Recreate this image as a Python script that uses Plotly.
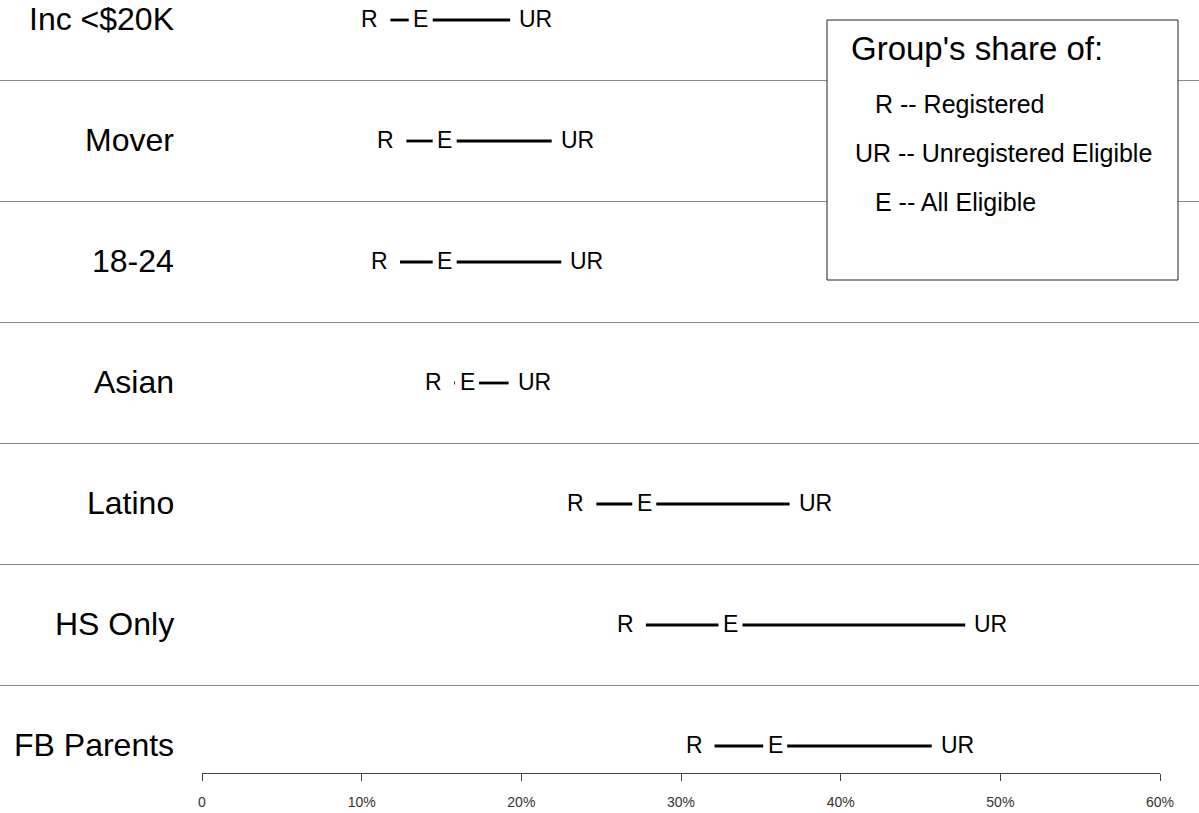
import plotly.graph_objects as go

groups = ["Inc <$20K", "Mover", "18-24", "Asian", "Latino", "HS Only", "FB Parents"]
registered = [11.8, 12.8, 12.4, 15.8, 24.7, 27.8, 32.1]
eligible = [13.7, 15.2, 15.2, 16.6, 27.7, 33.1, 35.9]
unregistered = [19.3, 21.9, 22.5, 19.2, 36.8, 47.8, 45.7]
tick_vals = [0, 10, 20, 30, 40, 50, 60]
tick_text = ["0", "10%", "20%", "30%", "40%", "50%", "60%"]
legend_title = "Group's share of:"
legend_items = ["R -- Registered", "UR -- Unregistered Eligible", "E -- All Eligible"]

W, H = 1199, 813
ML, MR, MT, MB = 202, 39, 0, 40
PW = W - ML - MR
PH = H - MT - MB
XMAX = 60.0
px_per_unit = PW / XMAX
gap = 12 / px_per_unit

n = len(groups)
ys = [n - 1 - i for i in range(n)]

FONT = "Liberation Sans, Arial, sans-serif"
LSIZE = 23
fig = go.Figure()

for i, g in enumerate(groups):
    y = ys[i]
    r, e, u = registered[i], eligible[i], unregistered[i]
    fig.add_trace(go.Scatter(x=[r, max(r, e - gap)], y=[y, y], mode="lines",
                             line=dict(color="black", width=2.8), showlegend=False, hoverinfo="skip"))
    fig.add_trace(go.Scatter(x=[e + gap, u], y=[y, y], mode="lines",
                             line=dict(color="black", width=2.8), showlegend=False, hoverinfo="skip"))
    fig.add_annotation(x=r, y=y, text="R", showarrow=False, xanchor="right", yanchor="middle",
                       xshift=-10, yshift=1, font=dict(family=FONT, size=LSIZE, color="black"))
    fig.add_annotation(x=e, y=y, text="E", showarrow=False, xanchor="center", yanchor="middle",
                       yshift=1, font=dict(family=FONT, size=LSIZE, color="black"))
    fig.add_annotation(x=u, y=y, text="UR", showarrow=False, xanchor="left", yanchor="middle",
                       xshift=7, yshift=1, font=dict(family=FONT, size=LSIZE, color="black"))
    fig.add_annotation(x=(176 - ML) / PW, xref="paper", y=y, text=g, showarrow=False,
                       xanchor="right", yanchor="middle", yshift=1,
                       font=dict(family=FONT, size=32, color="black"))

# separators between rows
for k in range(n - 1):
    fig.add_shape(type="line", xref="paper", yref="y", x0=-ML / PW, x1=(W - ML) / PW,
                  y0=k + 0.5, y1=k + 0.5, line=dict(color="#8a8a8a", width=1), layer="below")


def px_x(p):
    return (p - ML) / PW


def px_y(p):
    return 1 - (p - MT) / PH


# legend box
fig.add_shape(type="rect", xref="paper", yref="paper", x0=px_x(827), x1=px_x(1178),
              y0=px_y(280), y1=px_y(20), line=dict(color="#222", width=1), fillcolor="white", layer="above")
fig.add_annotation(xref="paper", yref="paper", x=px_x(849), y=px_y(49), text=legend_title,
                   showarrow=False, xanchor="left", yanchor="middle",
                   font=dict(family=FONT, size=33, color="black"))
for txt, xp, yp in zip(legend_items, [873, 853, 873], [104, 153, 202]):
    fig.add_annotation(xref="paper", yref="paper", x=px_x(xp), y=px_y(yp), text=txt,
                       showarrow=False, xanchor="left", yanchor="middle",
                       font=dict(family=FONT, size=25, color="black"))

y_bottom = 0 - (773 - 746) / 121
y_top = 6 + 20 / 121

fig.update_layout(
    width=W, height=H, autosize=False,
    margin=dict(l=ML, r=MR, t=MT, b=MB, pad=0),
    plot_bgcolor="white", paper_bgcolor="white",
    xaxis=dict(range=[0, XMAX], tickvals=tick_vals, ticktext=tick_text, showgrid=False,
               zeroline=False, showline=True, linecolor="#444", linewidth=1,
               ticks="outside", ticklen=7, tickcolor="#444", ticklabelstandoff=9,
               tickfont=dict(family="Liberation Sans Narrow, Arial Narrow, " + FONT, size=14, color="#333")),
    yaxis=dict(range=[y_bottom, y_top], visible=False, showgrid=False, zeroline=False),
    showlegend=False,
)

fig.write_html("out.html", config={"displayModeBar": False},
               post_script="document.body.style.margin='0px';")
